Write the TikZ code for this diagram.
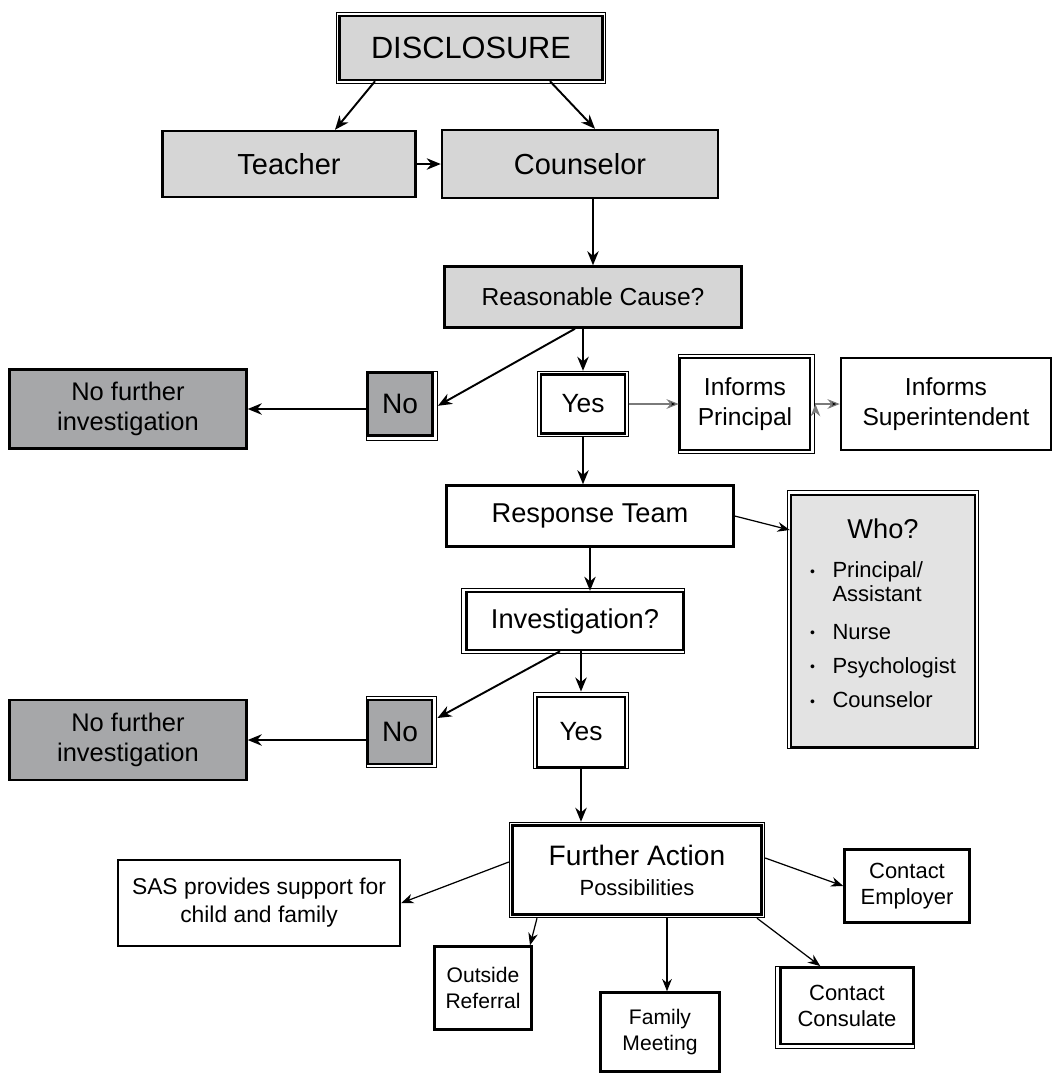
\documentclass[tikz,border=0pt]{standalone}
\usepackage{fontspec}
\setmainfont{Liberation Sans}
\usetikzlibrary{arrows.meta,fit}
\definecolor{lightbox}{HTML}{D6D6D6}
\definecolor{darkbox}{HTML}{A6A7A9}
\definecolor{whobox}{HTML}{E3E3E3}
\definecolor{greyline}{HTML}{7A7A7A}

\begin{document}
\begin{tikzpicture}[>={Stealth[length=8pt,width=6.5pt]},node distance=2cm,
    box/.style={draw,line width=1.4pt,inner sep=2pt,align=center,font=\fontsize{15}{18}\selectfont},
    top box/.style={box,fill=lightbox},
    no box/.style={box,fill=darkbox},
    frame/.style={draw,line width=0.6pt,inner sep=1.1pt},
    main arrow/.style={->,line width=1.1pt},
    thin arrow/.style={->,line width=0.7pt,>={Stealth[length=7pt,width=5.5pt]}}]

    \useasboundingbox (0,0) rectangle (21.06,-21.52);

    % top of the chart
    \node (disc) [top box,minimum width=5.26cm,minimum height=1.28cm,font=\fontsize{17.5}{20}\selectfont] at (9.42,-0.96) {DISCLOSURE};
    \node (couns) [top box,node distance=2.32cm,below of=disc,xshift=2.18cm,minimum width=5.52cm,minimum height=1.36cm,font=\fontsize{16.5}{19}\selectfont] {Counselor};
    \node (teach) [top box,node distance=5.82cm,left of=couns,minimum width=5.06cm,minimum height=1.32cm,font=\fontsize{16.5}{19}\selectfont] {Teacher};
    \node (reas) [top box,node distance=2.66cm,below of=couns,xshift=0.26cm,minimum width=5.94cm,minimum height=1.22cm,font=\fontsize{14}{17}\selectfont] {Reasonable Cause?};

    % first answer
    \node (yes1) [box,node distance=2.14cm,below of=reas,xshift=-0.2cm,minimum width=1.68cm,minimum height=1.18cm] {Yes};
    \node (no1) [no box,node distance=3.66cm,left of=yes1,minimum width=1.3cm,minimum height=1.26cm,font=\fontsize{16}{19}\selectfont] {No};
    \node (nfi1) [no box,node distance=5.44cm,left of=no1,yshift=-0.1cm,minimum width=4.74cm,minimum height=1.58cm,font=\fontsize{14.5}{17.5}\selectfont] {No further\\investigation};
    \node (prin) [box,node distance=3.24cm,right of=yes1,minimum width=2.6cm,minimum height=1.84cm,font=\fontsize{14}{17}\selectfont] {Informs\\Principal};
    \node (sup) [box,node distance=4.02cm,right of=prin,minimum width=4.2cm,minimum height=1.84cm,font=\fontsize{14}{17}\selectfont] {Informs\\Superintendent};

    % team
    \node (resp) [box,node distance=2.24cm,below of=yes1,xshift=0.14cm,minimum width=5.74cm,minimum height=1.22cm,font=\fontsize{15.5}{18}\selectfont] {Response Team};
    \node (inv) [box,node distance=2.1cm,below of=resp,xshift=-0.3cm,minimum width=4.34cm,minimum height=1.16cm,font=\fontsize{15.5}{18}\selectfont] {Investigation?};
    \node (who) [box,fill=whobox,node distance=6.16cm,right of=inv,minimum width=3.68cm,minimum height=5.04cm,font=\fontsize{12.5}{13.5}\selectfont]
        {{\fontsize{15.5}{18}\selectfont Who?}\\[12pt]
         \begin{tabular}{@{}l@{\hspace{10pt}}l@{}}
         \raisebox{1pt}{\fontsize{8}{8}\selectfont\textbullet} & Principal/\\
          & Assistant\\[8pt]
         \raisebox{1pt}{\fontsize{8}{8}\selectfont\textbullet} & Nurse\\[6pt]
         \raisebox{1pt}{\fontsize{8}{8}\selectfont\textbullet} & Psychologist\\[6pt]
         \raisebox{1pt}{\fontsize{8}{8}\selectfont\textbullet} & Counselor
         \end{tabular}\\[4pt]};

    % second answer
    \node (yes2) [box,node distance=2.22cm,below of=inv,xshift=0.12cm,minimum width=1.76cm,minimum height=1.4cm] {Yes};
    \node (no2) [no box,node distance=3.62cm,left of=yes2,minimum width=1.28cm,minimum height=1.28cm,font=\fontsize{16}{19}\selectfont] {No};
    \node (nfi2) [no box,node distance=5.44cm,left of=no2,yshift=-0.16cm,minimum width=4.74cm,minimum height=1.6cm,font=\fontsize{14.5}{17.5}\selectfont] {No further\\investigation};

    % further action
    \node (fa) [box,node distance=2.76cm,below of=yes2,xshift=1.12cm,minimum width=4.98cm,minimum height=1.78cm,font=\fontsize{16}{19}\selectfont] {Further Action\\[-2pt]{\fontsize{12.5}{15}\selectfont Possibilities}};
    \node (sas) [box,node distance=7.56cm,left of=fa,yshift=-0.66cm,minimum width=5.64cm,minimum height=1.72cm,font=\fontsize{13}{16}\selectfont] {SAS provides support for\\child and family};
    \node (outr) [box,node distance=2.36cm,below of=fa,xshift=-3.08cm,minimum width=1.94cm,minimum height=1.66cm,font=\fontsize{12}{15}\selectfont] {Outside\\Referral};
    \node (fam) [box,node distance=3.24cm,below of=fa,xshift=0.46cm,minimum width=2.38cm,minimum height=1.58cm,font=\fontsize{12}{15}\selectfont] {Family\\Meeting};
    \node (cons) [box,node distance=2.72cm,below of=fa,xshift=4.2cm,minimum width=2.66cm,minimum height=1.52cm,font=\fontsize{12.5}{15}\selectfont] {Contact\\Consulate};
    \node (emp) [box,node distance=5.4cm,right of=fa,yshift=-0.32cm,minimum width=2.5cm,minimum height=1.46cm,font=\fontsize{12.5}{15}\selectfont] {Contact\\Employer};

    % outer thin frames
    \foreach \n/\dx/\dy in {disc/0/0,no1/1/-1,yes1/0/0,prin/1/0,who/0/1,inv/-1/0,no2/1/0,yes2/0/1,fa/0/0,cons/-1/-1}
        \node (\n-f) [frame,fit=(\n),xshift=\dx pt,yshift=\dy pt] {};

    \path[main arrow]
    ([xshift=-1.92cm]disc.south) edge ([xshift=0.92cm]teach.north)
    ([xshift=1.58cm]disc.south) edge ([xshift=0.3cm]couns.north)
    (teach.east) edge (couns.west)
    ([xshift=0.26cm]couns.south) edge (reas.north)
    ([xshift=-0.36cm]reas.south) edge (no1-f.east)
    (reas.south -| yes1.north) edge (yes1-f.north)
    (no1.west |- nfi1.east) edge (nfi1.east)
    (yes1-f.south) edge (yes1.south |- resp.north)
    (resp.south) edge (resp.south |- inv.north)
    ([xshift=-0.3cm]inv.south) edge ([yshift=0.28cm]no2-f.east)
    (yes2.north |- inv.south) edge (yes2-f.north)
    (no2.west |- nfi2.east) edge (nfi2.east)
    (yes2.south) edge (yes2.south |- fa-f.north);

    \path[thin arrow,draw=greyline]
    (yes1-f.east) edge (prin.west)
    (prin-f.east) edge (sup.west);

    \path[thin arrow]
    (resp.east) edge ([yshift=1.82cm]who.west)
    ([yshift=0.16cm]fa-f.west) edge (sas.east)
    ([xshift=-2cm]fa-f.south) edge ([xshift=0.94cm]outr.north)
    ([xshift=0.6cm]fa-f.south) edge ([xshift=0.6cm]fa-f.south |- fam.north)
    ([xshift=2.4cm]fa-f.south) edge ([xshift=-0.5cm]cons-f.north)
    ([yshift=0.24cm]fa-f.east) edge (emp.west);
\end{tikzpicture}
\end{document}
